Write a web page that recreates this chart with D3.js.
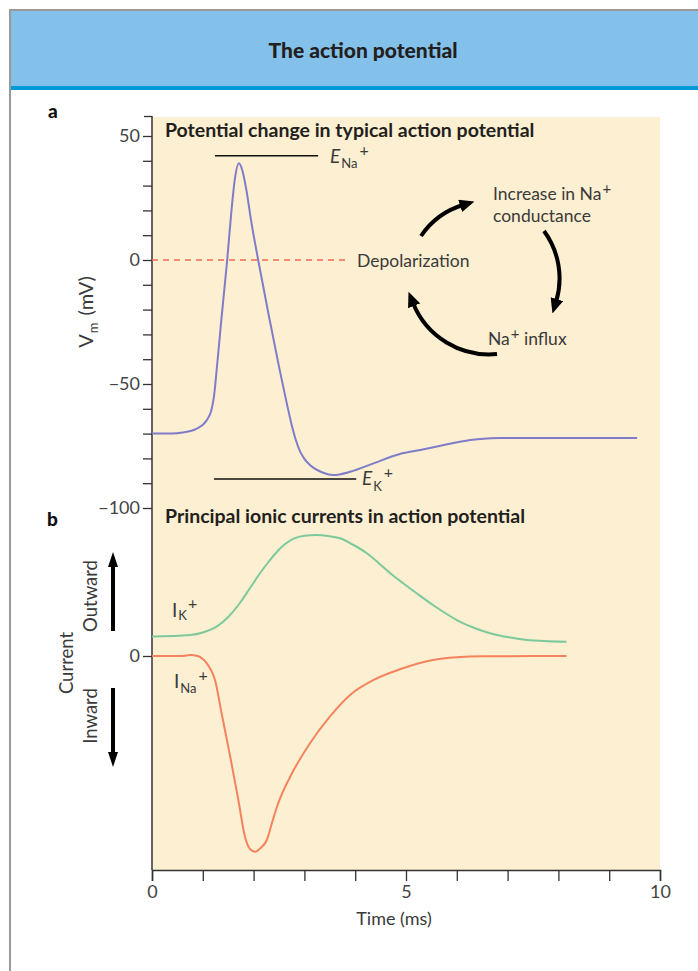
<!DOCTYPE html>
<html>
<head>
<meta charset="utf-8">
<script src="https://cdn.jsdelivr.net/npm/d3@7"></script>
<style>
  body { margin: 0; background: #fff; }
  text { font-family: Lato, "Open Sans", sans-serif; fill: #3a3a3a; }
</style>
</head>
<body>
<div id="chart"></div>
<script>
// membrane potential (ms, mV)
var vmTime = [0, 0.4, 0.6, 0.88, 1.08, 1.17, 1.22, 1.27, 1.37, 1.48, 1.56, 1.63, 1.71, 1.78, 1.86, 1.95, 2.09, 2.3, 2.5, 2.65, 2.75, 2.83, 2.91, 3.0, 3.11, 3.37, 3.57, 3.9, 4.36, 4.88, 5.28, 5.7, 6.06, 6.46, 6.85, 7.5, 9.55];
var vmValue = [-70, -70, -69.6, -68, -64.5, -60.5, -55, -45, -23, 0, 19, 32.5, 39, 36, 28, 16, 0, -22.5, -43, -57.5, -66.5, -72.5, -77, -80.2, -82.7, -85.8, -86.7, -85.4, -82, -78.2, -76.6, -74.8, -73.3, -72.2, -71.8, -71.8, -71.8];

// ionic currents (ms, arbitrary units)
var ikTime = [0, 0.75, 1.0, 1.27, 1.5, 1.73, 1.93, 2.13, 2.3, 2.46, 2.62, 2.78, 3.0, 3.24, 3.47, 3.7, 3.95, 4.23, 4.46, 4.69, 4.95, 5.21, 5.53, 5.8, 6.06, 6.4, 6.71, 7.05, 7.38, 7.8, 8.16];
var ikValue = [19.5, 21, 23.5, 29.3, 39, 53, 68, 83, 94.5, 104.3, 112, 117.2, 120.3, 121, 120, 117.7, 111.5, 102.7, 93, 82.7, 72.5, 62.7, 51, 42, 34.3, 27, 22, 18.5, 16, 14.8, 14.3];
var inaTime = [0, 0.6, 0.75, 0.9, 1.0, 1.08, 1.16, 1.24, 1.37, 1.54, 1.70, 1.83, 1.92, 2.03, 2.13, 2.26, 2.36, 2.46, 2.72, 3.11, 3.5, 3.9, 4.4, 4.88, 5.53, 6.0, 6.52, 8.16];
var inaValue = [0, 0, 1, 0, -3, -7.3, -14, -24, -57.3, -100.7, -144, -180.7, -192.3, -195.7, -192.3, -184, -167.3, -150.7, -120.7, -87.3, -60.7, -39, -23, -13.3, -4, -1.3, -0.3, 0];

// reversal potentials: [mV, from ms, to ms]
var eNa = [42, 1.24, 3.27];
var eK = [-88.3, 1.22, 4.02];
var vTicks = [50, 40, 30, 20, 10, 0, -10, -20, -30, -40, -50, -60, -70, -80, -90, -100];
var vLabels = [50, 0, -50, -100];
var timeTicks = [0, 1, 2, 3, 4, 5, 6, 7, 8, 9, 10];
var timeLabels = [0, 5, 10];

var W = 698, H = 971;
var svg = d3.select("#chart").append("svg")
    .attr("width", W).attr("height", H);

var defs = svg.append("defs");
defs.append("marker")
    .attr("id", "head")
    .attr("markerUnits", "userSpaceOnUse")
    .attr("markerWidth", 15).attr("markerHeight", 13)
    .attr("viewBox", "0 0 15 13")
    .attr("refX", 3).attr("refY", 6.5)
    .attr("orient", "auto")
  .append("path").attr("d", "M0,0 L15,6.5 L0,13 Z").attr("fill", "#000");
defs.append("marker")
    .attr("id", "headV")
    .attr("markerUnits", "userSpaceOnUse")
    .attr("markerWidth", 15).attr("markerHeight", 10)
    .attr("viewBox", "0 0 15 10")
    .attr("refX", 2).attr("refY", 5)
    .attr("orient", "auto")
  .append("path").attr("d", "M0,0 L15,5 L0,10 Z").attr("fill", "#000");

// frame + header
svg.append("rect").attr("x", 10).attr("y", 10).attr("width", W).attr("height", H)
    .attr("fill", "none").attr("stroke", "#9a9a9a").attr("stroke-width", 2);
svg.append("rect").attr("x", 11).attr("y", 11).attr("width", W - 11).attr("height", 75)
    .attr("fill", "#84c1ea");
svg.append("rect").attr("x", 11).attr("y", 86).attr("width", W - 11).attr("height", 4)
    .attr("fill", "#029ad8");
svg.append("text").attr("x", 363).attr("y", 58)
    .attr("text-anchor", "middle").attr("font-size", 21).attr("font-weight", 900)
    .style("fill", "#231f20").text("The action potential");

// scales
var x = d3.scaleLinear().domain([0, 10]).range([152, 660]);
var yV = d3.scaleLinear().domain([-100, 50]).range([508, 136]);
var yI = d3.scaleLinear().domain([0, 100]).range([656, 556]);

// plot background
svg.append("rect").attr("x", x(0)).attr("y", 117)
    .attr("width", x(10) - x(0)).attr("height", 870 - 117)
    .attr("fill", "#fdefd1");

// panel letters
svg.append("text").attr("x", 48).attr("y", 118).attr("font-size", 19).attr("font-weight", 900)
    .style("fill", "#111").text("a");
svg.append("text").attr("x", 47).attr("y", 526).attr("font-size", 19).attr("font-weight", 900)
    .style("fill", "#111").text("b");

// panel titles
svg.append("text").attr("x", 165).attr("y", 137).attr("font-size", 19.5).attr("font-weight", 700)
    .style("fill", "#231f20").text("Potential change in typical action potential");
svg.append("text").attr("x", 165).attr("y", 523).attr("font-size", 19.5).attr("font-weight", 700)
    .style("fill", "#231f20").text("Principal ionic currents in action potential");

// y axis (Vm)
var axV = svg.append("g").attr("transform", "translate(" + x(0) + ",0)")
    .call(d3.axisLeft(yV).tickValues(vTicks).tickSize(9).tickPadding(3)
        .tickFormat(function(d) { return vLabels.indexOf(d) >= 0 ? d3.format("")(d) : ""; }));
axV.select(".domain").remove();
axV.selectAll("line").attr("stroke", "#333").attr("stroke-width", 1.3);
axV.selectAll("text").attr("font-size", 18).style("font-family", "Lato, sans-serif").style("fill", "#444");

// current axis (only zero)
var axI = svg.append("g").attr("transform", "translate(" + x(0) + ",0)")
    .call(d3.axisLeft(yI).tickValues([0]).tickSize(9).tickPadding(3));
axI.select(".domain").remove();
axI.selectAll("line").attr("stroke", "#333").attr("stroke-width", 1.3);
axI.selectAll("text").attr("font-size", 18).style("font-family", "Lato, sans-serif").style("fill", "#444");

// vertical axis line with top cap
svg.append("line").attr("x1", x(0)).attr("x2", x(0)).attr("y1", 116).attr("y2", 870)
    .attr("stroke", "#333").attr("stroke-width", 1.5);
svg.append("line").attr("x1", x(0) - 8).attr("x2", x(0)).attr("y1", 116.5).attr("y2", 116.5)
    .attr("stroke", "#333").attr("stroke-width", 1.3);

// time axis
var axT = svg.append("g").attr("transform", "translate(0,870)")
    .call(d3.axisBottom(x).tickValues(timeTicks).tickSize(11).tickPadding(4)
        .tickFormat(function(d) { return timeLabels.indexOf(d) >= 0 ? d : ""; }));
axT.select(".domain").attr("stroke", "#333").attr("stroke-width", 1.5);
axT.selectAll("line").attr("stroke", "#333").attr("stroke-width", 1.3);
axT.selectAll("text").attr("font-size", 18).style("font-family", "Lato, sans-serif").style("fill", "#444");
svg.append("text").attr("x", 394).attr("y", 925).attr("text-anchor", "middle")
    .attr("font-size", 18).text("Time (ms)");

// y labels
svg.append("text").attr("transform", "translate(93,312) rotate(-90)")
    .attr("text-anchor", "middle").attr("font-size", 20)
    .call(function(t) {
        t.append("tspan").text("V");
        t.append("tspan").attr("font-size", 13).attr("dy", 5).attr("dx", 1).text("m");
        t.append("tspan").attr("dy", -5).attr("dx", 7).text("(mV)");
    });
svg.append("text").attr("transform", "translate(73,663) rotate(-90)")
    .attr("text-anchor", "middle").attr("font-size", 18.5).text("Current");
svg.append("text").attr("transform", "translate(97,596) rotate(-90)")
    .attr("text-anchor", "middle").attr("font-size", 18.5).text("Outward");
svg.append("text").attr("transform", "translate(97,716) rotate(-90)")
    .attr("text-anchor", "middle").attr("font-size", 18.5).text("Inward");

// outward / inward arrows
svg.append("line").attr("x1", 113).attr("x2", 113).attr("y1", 631).attr("y2", 565)
    .attr("stroke", "#000").attr("stroke-width", 4).attr("marker-end", "url(#headV)");
svg.append("line").attr("x1", 113).attr("x2", 113).attr("y1", 688).attr("y2", 754)
    .attr("stroke", "#000").attr("stroke-width", 4).attr("marker-end", "url(#headV)");

// reversal potential lines
svg.append("line").attr("x1", x(eNa[1])).attr("x2", x(eNa[2]))
    .attr("y1", yV(eNa[0])).attr("y2", yV(eNa[0]))
    .attr("stroke", "#111").attr("stroke-width", 1.5);
svg.append("line").attr("x1", x(eK[1])).attr("x2", x(eK[2]))
    .attr("y1", yV(eK[0])).attr("y2", yV(eK[0]))
    .attr("stroke", "#111").attr("stroke-width", 1.5);

svg.append("text").attr("x", 330).attr("y", 163).attr("font-size", 19)
    .call(function(t) {
        t.append("tspan").attr("font-style", "italic").text("E");
        t.append("tspan").attr("font-size", 13).attr("dy", 5).attr("dx", 1).text("Na");
        t.append("tspan").attr("font-size", 16).attr("dy", -12).attr("dx", 2).text("+");
    });
svg.append("text").attr("x", 362).attr("y", 485).attr("font-size", 19)
    .call(function(t) {
        t.append("tspan").attr("font-style", "italic").text("E");
        t.append("tspan").attr("font-size", 13).attr("dy", 6).attr("dx", 1).text("K");
        t.append("tspan").attr("font-size", 16).attr("dy", -13).attr("dx", 2).text("+");
    });

// depolarization threshold dashed line
svg.append("line").attr("x1", x(0)).attr("x2", 349)
    .attr("y1", yV(0)).attr("y2", yV(0))
    .attr("stroke", "#f26b50").attr("stroke-width", 1.5).attr("stroke-dasharray", "6,5");
svg.append("text").attr("x", 357).attr("y", 267).attr("font-size", 17.5).text("Depolarization");

// positive feedback cycle
svg.append("text").attr("x", 493).attr("y", 200).attr("font-size", 17.5)
    .call(function(t) {
        t.append("tspan").text("Increase in Na");
        t.append("tspan").attr("font-size", 15).attr("dy", -6).attr("dx", 1).text("+");
    });
svg.append("text").attr("x", 493).attr("y", 222).attr("font-size", 17.5).text("conductance");
svg.append("text").attr("x", 488).attr("y", 345).attr("font-size", 17.5)
    .call(function(t) {
        t.append("tspan").text("Na");
        t.append("tspan").attr("font-size", 15).attr("dy", -6).attr("dx", 1).text("+");
        t.append("tspan").attr("dy", 6).text(" influx");
    });

var cycle = [
    "M421,236 A78,78 0 0,1 463,205",
    "M544,231 A80,80 0 0,1 556,302",
    "M497,354 A82,82 0 0,1 413,303"
];
svg.selectAll(".cyc").data(cycle).enter().append("path")
    .attr("class", "cyc")
    .attr("d", function(d) { return d; })
    .attr("fill", "none").attr("stroke", "#000").attr("stroke-width", 4)
    .attr("marker-end", "url(#head)");

// curves
var vm = vmTime.map(function(t, i) { return [t, vmValue[i]]; });
var ik = ikTime.map(function(t, i) { return [t, ikValue[i]]; });
var ina = inaTime.map(function(t, i) { return [t, inaValue[i]]; });

var lineV = d3.line().x(function(d) { return x(d[0]); }).y(function(d) { return yV(d[1]); })
    .curve(d3.curveMonotoneX);
var lineI = d3.line().x(function(d) { return x(d[0]); }).y(function(d) { return yI(d[1]); })
    .curve(d3.curveMonotoneX);

svg.append("path").datum(vm).attr("d", lineV)
    .attr("fill", "none").attr("stroke", "#7f7cc9").attr("stroke-width", 2);
svg.append("path").datum(ik).attr("d", lineI)
    .attr("fill", "none").attr("stroke", "#7cca9c").attr("stroke-width", 2);
svg.append("path").datum(ina).attr("d", lineI)
    .attr("fill", "none").attr("stroke", "#f4835e").attr("stroke-width", 2);

// current labels
svg.append("text").attr("x", 172).attr("y", 617).attr("font-size", 19)
    .call(function(t) {
        t.append("tspan").text("I");
        t.append("tspan").attr("font-size", 13).attr("dy", 3).attr("dx", 1).text("K");
        t.append("tspan").attr("font-size", 16).attr("dy", -11).attr("dx", 1).text("+");
    });
svg.append("text").attr("x", 174).attr("y", 688).attr("font-size", 19)
    .call(function(t) {
        t.append("tspan").text("I");
        t.append("tspan").attr("font-size", 13).attr("dy", 5).attr("dx", 1).text("Na");
        t.append("tspan").attr("font-size", 16).attr("dy", -12).attr("dx", 2).text("+");
    });
</script>
</body>
</html>
